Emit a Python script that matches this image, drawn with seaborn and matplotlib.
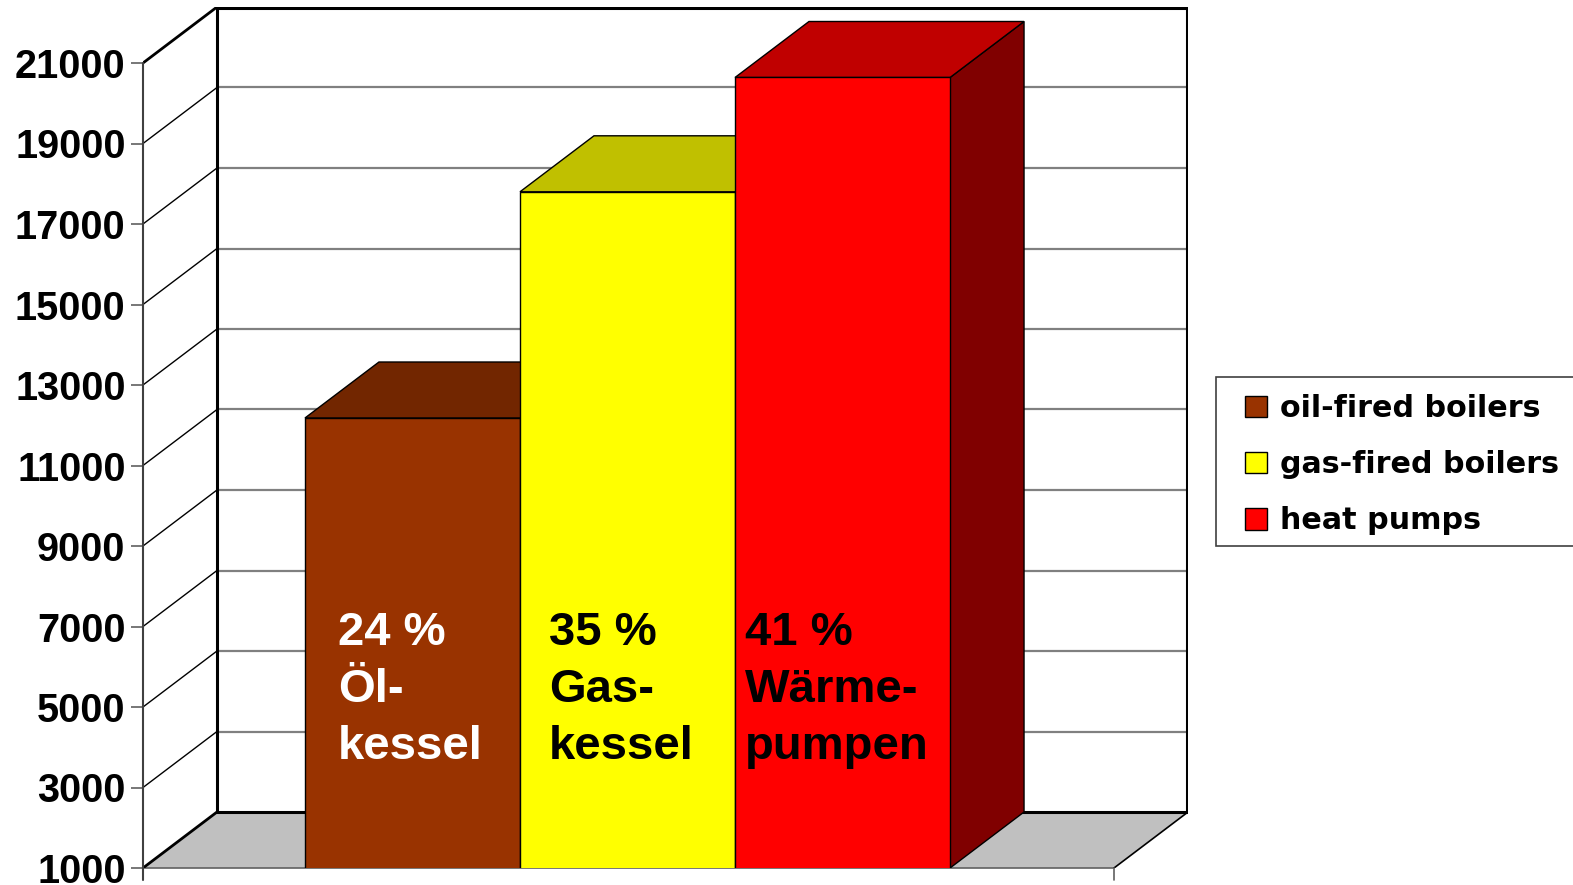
import matplotlib
matplotlib.use("Agg")
import matplotlib.pyplot as plt
from matplotlib.patches import Polygon, Patch, Rectangle
import seaborn as sns

# ---- data ----
categories = ["oil-fired boilers", "gas-fired boilers", "heat pumps"]
values = [12180, 17800, 20640]
front_colors = ["#993300", "#FFFF00", "#FF0000"]
top_colors = ["#722600", "#C0C000", "#C00000"]
side_colors = ["#722600", "#C0C000", "#800000"]
bar_labels = ["24 %\nÖl-\nkessel", "35 %\nGas-\nkessel", "41 %\nWärme-\npumpen"]
label_colors = ["white", "black", "black"]
yticks = [1000, 3000, 5000, 7000, 9000, 11000, 13000, 15000, 17000, 19000, 21000]

sns.set_theme(style="white")
plt.rcParams["font.family"] = ["Liberation Sans", "DejaVu Sans"]

W, H = 1573, 885
fig = plt.figure(figsize=(W / 100, H / 100), dpi=100)

# axes pixel frame (front axis at x=143, back wall right at 1188; y 868 -> 7)
px_l, px_r, px_t, px_b = 143, 1188, 7, 868
ax = fig.add_axes([px_l / W, 1 - px_b / H, (px_r - px_l) / W, (px_b - px_t) / H])

# depth offsets
ppu_x = 215.07              # pixels per bar width unit
ppu_y = 0.04025             # pixels per value unit
DX = 74 / ppu_x
DY = 56 / ppu_y
x0 = -0.5 - 162 / ppu_x     # front-left of floor/axis
x1 = 2.5 + 164 / ppu_x      # front-right of floor
ymin, ymax = 1000, 21000

ax.set_xlim(x0, x1 + DX)
ax.set_ylim(ymin, ymax + DY)
for s in ax.spines.values():
    s.set_visible(False)

# floor
floor = Polygon([(x0, ymin), (x0 + DX, ymin + DY), (x1 + DX, ymin + DY), (x1, ymin)],
                closed=True, facecolor="#C0C0C0", edgecolor="none", zorder=0.5)
ax.add_patch(floor)
ax.plot([x0, x1], [ymin, ymin], color="#606060", lw=1.2, zorder=0.6, clip_on=False)
ax.plot([x1, x1 + DX], [ymin, ymin + DY], color="black", lw=1.2, zorder=0.6)
ax.plot([x1, x1], [ymin, ymin - 12 / ppu_y], color="#606060", lw=1.2, clip_on=False)

# back wall gridlines
for v in yticks[1:]:
    ax.plot([x0 + DX, x1 + DX], [v + DY, v + DY], color="#808080", lw=1.6, zorder=0.7)
# left wall diagonals
for v in yticks:
    lw = 2.0 if v in (ymin, ymax) else 1.0
    ax.plot([x0, x0 + DX], [v, v + DY], color="black", lw=lw, zorder=0.8)
# back wall border
ax.plot([x0 + DX, x0 + DX, x1 + DX - 0.003, x1 + DX - 0.003, x0 + DX],
        [ymin + DY, ymax + DY - 20, ymax + DY - 20, ymin + DY, ymin + DY],
        color="black", lw=2.2, zorder=0.9)
# front axis line
ax.plot([x0, x0], [ymin - 12 / ppu_y, ymax], color="#404040", lw=1.5, zorder=4, clip_on=False)

# bars (front faces)
sns.barplot(x=categories, y=values, hue=categories, palette=front_colors, width=1.0,
            edgecolor="black", linewidth=1.0, legend=False, zorder=3, ax=ax, saturation=1)

# 3D top and side faces
for i, v in enumerate(values):
    l, r = i - 0.5, i + 0.5
    top = Polygon([(l, v), (l + DX, v + DY), (r + DX, v + DY), (r, v)], closed=True,
                  facecolor=top_colors[i], edgecolor="black", lw=1.0, zorder=2 + i * 0.1)
    side = Polygon([(r, ymin), (r + DX, ymin + DY), (r + DX, v + DY), (r, v)], closed=True,
                   facecolor=side_colors[i], edgecolor="black", lw=1.0, zorder=2 + i * 0.1)
    ax.add_patch(side)
    ax.add_patch(top)

# bar labels
label_px = [338, 549, 745]
for i, txt in enumerate(bar_labels):
    xd = x0 + (label_px[i] - px_l) / ppu_x
    yd = ymin + (px_b - 690) / ppu_y
    ax.text(xd, yd, txt, ha="left", va="center", fontsize=34, fontweight="bold",
            color=label_colors[i], linespacing=1.39, zorder=5)

ax.set_xlim(x0, x1 + DX)
ax.set_ylim(ymin, ymax + DY)
ax.set_xticks([])
ax.set_xlabel("")
ax.set_ylabel("")
ax.set_yticks(yticks)
ax.set_yticklabels([str(t) for t in yticks], fontsize=28.5, fontweight="bold", color="black")
ax.tick_params(axis="y", left=True, length=8.6, width=1.2, color="#606060", pad=4,
               direction="out", labelcolor="black")
ax.grid(False)

# legend
fig.patches.append(Rectangle((1216 / W, 1 - 546 / H), (1575 - 1216) / W, (546 - 377) / H,
                             transform=fig.transFigure, facecolor="white", edgecolor="#404040",
                             lw=1.2, figure=fig))
handles = [Patch(facecolor=c, edgecolor="black", lw=1.0, label=lab)
           for c, lab in zip(front_colors, categories)]
leg = fig.legend(handles=handles, loc="upper left", bbox_to_anchor=(1221 / W, 1 - 370 / H),
                 frameon=False, prop={"family": "DejaVu Sans", "weight": "bold", "size": 21.7},
                 handlelength=0.72, handleheight=0.72, handletextpad=0.45, labelspacing=0.9,
                 borderpad=0.3)
for t in leg.get_texts():
    t.set_color("black")

fig.savefig("out.png", dpi=100)
